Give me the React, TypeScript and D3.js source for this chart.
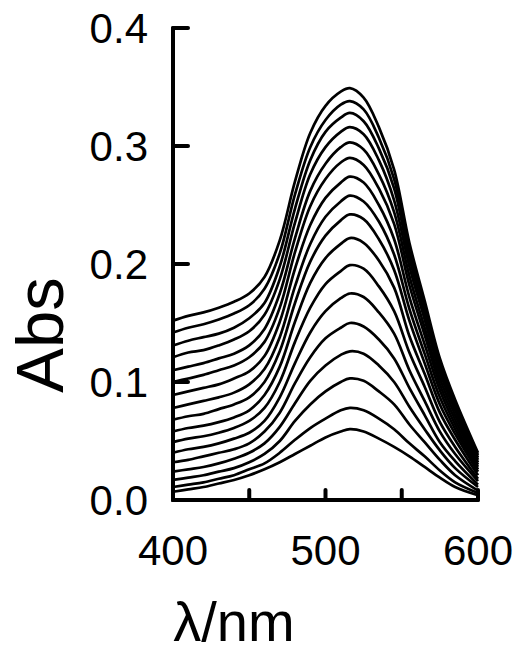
import React from "react";
import * as d3 from "d3";

const wavelengths = [400, 410, 420, 430, 440, 450, 460, 470, 480, 490, 500, 510, 516, 525, 535, 545, 555, 565, 575, 585, 600];

const s00 = [0.007, 0.009, 0.011, 0.014, 0.017, 0.021, 0.026, 0.032, 0.039, 0.046, 0.053, 0.058, 0.060, 0.058, 0.052, 0.045, 0.037, 0.028, 0.019, 0.011, 0.004];
const s01 = [0.011, 0.013, 0.015, 0.018, 0.021, 0.026, 0.031, 0.040, 0.051, 0.061, 0.069, 0.076, 0.078, 0.076, 0.069, 0.060, 0.048, 0.037, 0.025, 0.015, 0.006];
const s02 = [0.017, 0.019, 0.021, 0.024, 0.027, 0.032, 0.039, 0.050, 0.067, 0.081, 0.092, 0.100, 0.103, 0.101, 0.092, 0.081, 0.064, 0.049, 0.034, 0.021, 0.008];
const s03 = [0.024, 0.026, 0.028, 0.031, 0.035, 0.040, 0.048, 0.062, 0.082, 0.101, 0.114, 0.123, 0.126, 0.124, 0.114, 0.100, 0.079, 0.060, 0.042, 0.027, 0.011];
const s04 = [0.032, 0.034, 0.037, 0.040, 0.043, 0.048, 0.058, 0.074, 0.099, 0.121, 0.137, 0.146, 0.150, 0.147, 0.136, 0.120, 0.095, 0.072, 0.049, 0.033, 0.013];
const s05 = [0.040, 0.043, 0.045, 0.048, 0.052, 0.057, 0.067, 0.087, 0.116, 0.142, 0.160, 0.171, 0.175, 0.172, 0.159, 0.141, 0.110, 0.084, 0.058, 0.039, 0.016];
const s06 = [0.049, 0.052, 0.054, 0.057, 0.061, 0.067, 0.078, 0.100, 0.134, 0.163, 0.183, 0.194, 0.199, 0.196, 0.181, 0.160, 0.125, 0.096, 0.066, 0.045, 0.018];
const s07 = [0.058, 0.061, 0.063, 0.066, 0.070, 0.076, 0.089, 0.113, 0.151, 0.184, 0.205, 0.217, 0.222, 0.218, 0.203, 0.180, 0.139, 0.107, 0.074, 0.051, 0.021];
const s08 = [0.068, 0.071, 0.073, 0.077, 0.081, 0.087, 0.100, 0.126, 0.167, 0.202, 0.224, 0.237, 0.242, 0.238, 0.221, 0.195, 0.152, 0.116, 0.081, 0.056, 0.024];
const s09 = [0.078, 0.081, 0.084, 0.087, 0.091, 0.098, 0.111, 0.138, 0.181, 0.217, 0.240, 0.253, 0.258, 0.253, 0.236, 0.208, 0.162, 0.124, 0.087, 0.060, 0.026];
const s10 = [0.089, 0.092, 0.095, 0.098, 0.103, 0.109, 0.122, 0.151, 0.196, 0.233, 0.256, 0.269, 0.274, 0.269, 0.250, 0.221, 0.172, 0.132, 0.093, 0.064, 0.028];
const s11 = [0.100, 0.103, 0.106, 0.110, 0.114, 0.121, 0.134, 0.163, 0.210, 0.249, 0.272, 0.286, 0.290, 0.284, 0.264, 0.234, 0.182, 0.140, 0.098, 0.068, 0.030];
const s12 = [0.110, 0.113, 0.116, 0.120, 0.124, 0.131, 0.145, 0.175, 0.222, 0.262, 0.285, 0.299, 0.303, 0.297, 0.276, 0.244, 0.190, 0.146, 0.103, 0.072, 0.032];
const s13 = [0.121, 0.125, 0.127, 0.131, 0.136, 0.143, 0.157, 0.187, 0.235, 0.276, 0.299, 0.312, 0.316, 0.310, 0.288, 0.254, 0.198, 0.153, 0.108, 0.076, 0.034];
const s14 = [0.131, 0.135, 0.138, 0.141, 0.146, 0.154, 0.167, 0.198, 0.247, 0.288, 0.312, 0.324, 0.328, 0.321, 0.298, 0.264, 0.205, 0.158, 0.112, 0.079, 0.036];
const s15 = [0.142, 0.146, 0.149, 0.153, 0.158, 0.165, 0.179, 0.209, 0.259, 0.299, 0.322, 0.335, 0.338, 0.331, 0.307, 0.272, 0.211, 0.164, 0.116, 0.082, 0.038];
const s16 = [0.152, 0.156, 0.159, 0.163, 0.168, 0.175, 0.189, 0.220, 0.270, 0.311, 0.334, 0.346, 0.349, 0.341, 0.316, 0.280, 0.218, 0.169, 0.120, 0.085, 0.040];

const spectra = [s00, s01, s02, s03, s04, s05, s06, s07, s08, s09, s10, s11, s12, s13, s14, s15, s16];

const xTicks = [400, 450, 500, 550, 600];
const xTickLabels = [400, 500, 600];
const yTicks = [0.0, 0.1, 0.2, 0.3, 0.4];

const FONT = "'Liberation Sans', Arial, sans-serif";

export default function App() {
  const x = d3.scaleLinear().domain([400, 600]).range([173, 478]);
  const y = d3.scaleLinear().domain([0, 0.4]).range([500, 28]);

  const line = d3
    .line<number>()
    .x((_, i) => x(wavelengths[i]))
    .y((d) => y(d))
    .curve(d3.curveCatmullRom.alpha(0.5));

  return (
    <svg
      width={519}
      height={656}
      style={{ position: "absolute", left: 0, top: 0, background: "#fff" }}
    >
      <g fill="none" stroke="#000" strokeWidth={2.7} strokeLinejoin="round">
        {spectra.map((s, i) => (
          <path key={i} d={line(s) || ""} />
        ))}
      </g>
      {/* axes */}
      <g stroke="#000" strokeWidth={4} strokeLinecap="round" fill="none">
        <line x1={x(400)} x2={x(400)} y1={y(0.4)} y2={y(0)} />
        <line x1={x(400)} x2={x(600)} y1={y(0)} y2={y(0)} />
        {yTicks.map((t) => (
          <line key={"yt" + t} x1={x(400)} x2={x(400) + 15} y1={y(t)} y2={y(t)} />
        ))}
        {xTicks.map((t) => (
          <line key={"xt" + t} x1={x(t)} x2={x(t)} y1={y(0)} y2={y(0) - 10} />
        ))}
      </g>
      <g fontFamily={FONT} fontSize={42} fill="#000">
        {yTicks.map((t) => (
          <text key={"yl" + t} x={148} y={y(t)} dy="0.36em" textAnchor="end">
            {d3.format(".1f")(t)}
          </text>
        ))}
        {xTickLabels.map((t) => (
          <text key={"xl" + t} x={x(t)} y={565} textAnchor="middle">
            {t}
          </text>
        ))}
      </g>
      <text
        fontFamily={FONT}
        fontSize={56}
        x={234}
        y={641}
        textAnchor="middle"
      >
        λ/nm
      </text>
      <text
        fontFamily={FONT}
        fontSize={67}
        transform="translate(63,335) rotate(-90)"
        textAnchor="middle"
      >
        Abs
      </text>
    </svg>
  );
}
